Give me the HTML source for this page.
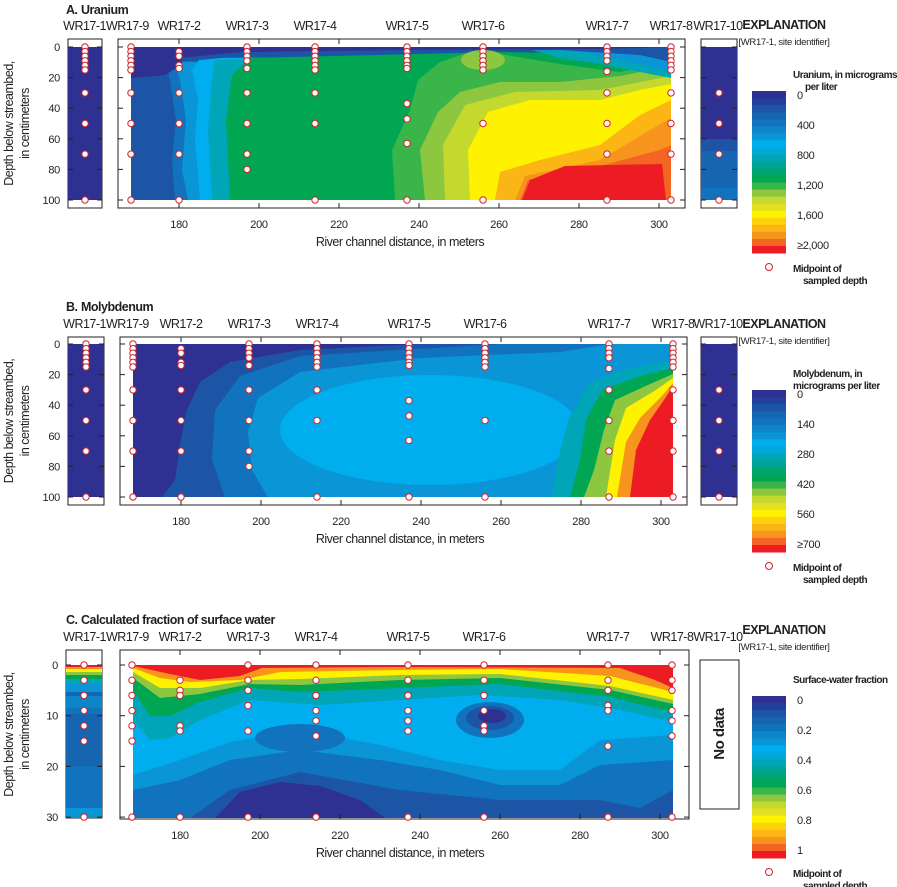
<!DOCTYPE html>
<html><head><meta charset="utf-8">
<style>
html,body{margin:0;padding:0;background:#fff;}
svg{display:block;font-family:"Liberation Sans Narrow","Liberation Sans",sans-serif;}
.t{font-size:12.5px;fill:#231f20;letter-spacing:-0.5px}
.s{font-size:11px;fill:#231f20;letter-spacing:-0.3px}
.b{font-weight:bold}
.lg{font-size:10px;letter-spacing:-0.5px}
</style></head><body>
<svg id="s" width="897" height="887" viewBox="0 0 897 887" xmlns="http://www.w3.org/2000/svg">
<defs>
<clipPath id="ca"><rect x="131" y="47" width="540" height="153"/></clipPath>
<clipPath id="cb"><rect x="133" y="344" width="540" height="153"/></clipPath>
<clipPath id="cc"><rect x="133" y="665" width="540" height="153"/></clipPath>
</defs>

<g clip-path="url(#ca)">
<rect x="131" y="47" width="540" height="153" fill="#1c55a5"/>
<polygon fill="#1173bd" points="175,200 172,160 176,120 170,80 165,62 671,55 671,200"/>
<polygon fill="#0a95d6" points="188,200 182,170 186,120 180,80 175,62 671,55 671,200"/>
<polygon fill="#00aeef" points="200,200 195,140 198,100 192,70 200,58 671,55 671,200"/>
<polygon fill="#00a5b8" points="212,200 208,130 212,80 215,60 671,55 671,200"/>
<polygon fill="#00a651" points="230,200 226,120 232,75 250,58 500,52 671,55 671,200"/>
<polygon fill="#39b54a" points="395,200 392,150 410,110 418,80 440,62 470,52 500,54 560,64 620,72 671,62 671,200"/>
<polygon fill="#8dc63f" points="425,200 420,150 438,112 460,92 500,82 560,82 620,76 671,66 671,200"/>
<polygon fill="#c4d92e" points="445,200 443,145 465,105 515,92 600,90 671,76 671,200"/>
<polygon fill="#fff200" points="470,200 468,150 488,112 530,100 600,100 640,90 671,84 671,200"/>
<polygon fill="#fbb515" points="495,200 500,172 540,160 600,145 640,115 671,100 671,200"/>
<polygon fill="#f7941d" points="515,200 525,176 600,160 650,130 671,118 671,200"/>
<polygon fill="#f26522" points="520,200 528,180 600,166 660,150 671,145 671,200"/>
<polygon fill="#ed1c24" points="522,200 530,180 565,166 662,164 666,200"/>
<polygon fill="#00a5b8" points="520,47 671,47 671,78 640,72 600,64 560,58"/>
<polygon fill="#0a95d6" points="560,47 671,47 671,72 640,64 600,56"/>
<polygon fill="#1c55a5" points="131,47 671,47 671,62 640,55 560,50 400,52 240,56 180,62 131,68"/>
<polygon fill="#2e3192" points="131,47 671,47 600,49 400,50 240,52 180,58 131,70"/>
<polygon fill="#2e3192" points="131,47 180,47 182,65 165,75 131,78"/>
<ellipse cx="483" cy="60" rx="22" ry="10" fill="#8dc63f"/>
</g>
<rect x="68" y="39" width="34" height="169" fill="#fff" stroke="#231f20"/>
<rect x="68" y="47" width="34" height="153" fill="#2e3192"/>
<rect x="118" y="39" width="567" height="169" fill="none" stroke="#231f20"/>
<rect x="701" y="39" width="36" height="169" fill="#fff" stroke="#231f20"/>
<rect x="701" y="47" width="36" height="92" fill="#2e3192"/>
<rect x="701" y="139" width="36" height="12" fill="#1c55a5"/>
<rect x="701" y="151" width="36" height="37" fill="#1565b0"/>
<rect x="701" y="188" width="36" height="12" fill="#1173bd"/>

<g clip-path="url(#cb)">
<rect x="133" y="344" width="540" height="153" fill="#0a95d6"/>
<ellipse cx="430" cy="430" rx="150" ry="55" fill="#00aeef"/>
<polygon fill="#1173bd" points="133,344 610,344 560,352 420,358 300,372 258,398 248,432 252,470 268,497 133,497"/>
<polygon fill="#1c55a5" points="133,344 500,344 300,356 240,376 215,410 212,460 225,497 133,497"/>
<polygon fill="#2e3192" points="133,344 420,344 300,350 230,362 200,382 186,412 180,445 175,480 162,497 133,497"/>
<polygon fill="#00a5b8" points="673,360 630,368 590,382 568,420 558,460 552,497 673,497"/>
<polygon fill="#00a651" points="673,368 640,376 602,390 586,420 580,460 570,497 673,497"/>
<polygon fill="#8dc63f" points="673,374 650,384 615,400 604,430 594,470 584,497 673,497"/>
<polygon fill="#fff200" points="673,378 656,390 626,408 615,440 606,497 673,497"/>
<polygon fill="#f7941d" points="673,383 660,398 640,418 626,442 617,497 673,497"/>
<polygon fill="#ed1c24" points="673,386 664,400 650,420 636,450 630,497 673,497"/>
</g>
<rect x="68" y="337" width="36" height="168" fill="#fff" stroke="#231f20"/>
<rect x="68" y="344" width="36" height="153" fill="#2e3192"/>
<rect x="120" y="337" width="567" height="168" fill="none" stroke="#231f20"/>
<rect x="701" y="337" width="36" height="168" fill="#fff" stroke="#231f20"/>
<rect x="701" y="344" width="36" height="153" fill="#2e3192"/>

<g clip-path="url(#cc)">
<rect x="133" y="665" width="540" height="153" fill="#1173bd"/>
<polygon fill="#1c55a5" points="133,818 190,818 230,790 300,772 400,790 500,800 600,800 640,808 673,790 673,818"/>
<polygon fill="#2e3192" points="215,818 240,792 280,782 320,786 360,800 385,818"/>
<polygon fill="#0a95d6" points="133,665 673,665 673,760 600,765 560,785 500,785 440,770 380,760 300,750 230,760 180,780 133,790"/>
<polygon fill="#00aeef" points="133,665 673,665 673,735 600,740 560,770 500,770 440,760 380,745 300,730 230,742 180,760 133,775"/>
<ellipse cx="300" cy="738" rx="45" ry="14" fill="#1173bd"/>
<ellipse cx="490" cy="720" rx="34" ry="18" fill="#1173bd"/>
<ellipse cx="490" cy="718" rx="24" ry="12" fill="#1c55a5"/>
<ellipse cx="492" cy="716" rx="14" ry="7" fill="#2e3192"/>
<polygon fill="#00a5b8" points="133,665 673,665 673,722 620,710 560,700 480,695 400,700 320,705 250,700 200,720 170,738 150,740 133,720"/>
<polygon fill="#00a651" points="133,665 673,665 673,712 610,697 500,684 400,688 300,692 250,688 200,702 170,716 150,716 133,690"/>
<polygon fill="#8dc63f" points="133,665 673,665 673,704 610,690 500,678 400,680 300,685 250,684 200,694 160,698 133,678"/>
<polygon fill="#fff200" points="133,665 673,665 673,700 610,686 500,674 400,675 300,679 250,680 200,688 160,688 133,672"/>
<polygon fill="#f7941d" points="133,665 673,665 673,692 610,676 500,669 400,670 280,672 240,680 190,682 160,678 133,668"/>
<polygon fill="#ed1c24" points="133,665 673,665 673,688 655,680 620,668 400,667 262,668 240,676 200,680 170,674 133,666"/>
</g>
<rect x="66" y="650" width="36" height="168" fill="#fff" stroke="#231f20"/>
<g>
<rect x="66" y="665" width="36" height="2" fill="#ed1c24"/>
<rect x="66" y="667" width="36" height="2" fill="#f7941d"/>
<rect x="66" y="669" width="36" height="3" fill="#fff200"/>
<rect x="66" y="672" width="36" height="3" fill="#8dc63f"/>
<rect x="66" y="675" width="36" height="4" fill="#00a651"/>
<rect x="66" y="679" width="36" height="5" fill="#00a5b8"/>
<rect x="66" y="684" width="36" height="8" fill="#0a95d6"/>
<rect x="66" y="692" width="36" height="4" fill="#1565b0"/>
<rect x="66" y="696" width="36" height="12" fill="#0d85c9"/>
<rect x="66" y="708" width="36" height="6" fill="#1173bd"/>
<rect x="66" y="714" width="36" height="52" fill="#1565b0"/>
<rect x="66" y="766" width="36" height="42" fill="#1173bd"/>
<rect x="66" y="808" width="36" height="10" fill="#0a95d6"/>
</g>
<rect x="120" y="650" width="569" height="169" fill="none" stroke="#231f20"/>
<rect x="700" y="660" width="39" height="149" fill="#fff" stroke="#231f20"/>
<text class="t b" transform="translate(724,734) rotate(-90)" text-anchor="middle" style="font-size:15px">No data</text>

<g id="dyn"></g>
</svg>
<script>
var NS="http://www.w3.org/2000/svg",g=document.getElementById('dyn');
function el(n,a,t){var e=document.createElementNS(NS,n);for(var k in a)e.setAttribute(k,a[k]);if(t!==undefined)e.textContent=t;g.appendChild(e);return e;}
function txt(x,y,s,cls,anc){el('text',{x:x,y:y,'class':cls||'t','text-anchor':anc||'start'},s);}
function line(x1,y1,x2,y2){el('line',{x1:x1,y1:y1,x2:x2,y2:y2,stroke:'#231f20','stroke-width':1});}
function dot(x,y){el('circle',{cx:x,cy:y,r:3.2,fill:'#fff',stroke:'#d2232a','stroke-width':1});}
var pal=["#2e3192","#22409a","#1c55a5","#1565b0","#1173bd","#0d85c9","#0a95d6","#00aeef","#00a9d8","#00a5b8","#00a396","#00a46e","#00a651","#39b54a","#8dc63f","#c4d92e","#e3e022","#fff200","#fdd20b","#fbb515","#f7941d","#f26522","#ed1c24"];
var sites=[["WR17-9",168],["WR17-2",180],["WR17-3",197],["WR17-4",214],["WR17-5",237],["WR17-6",256],["WR17-7",287],["WR17-8",303]];
var depthsAB=[[0,3,6,9,12,15,30,50,70,100],[3,6,12,14,30,50,70,100],[0,3,6,9,14,30,50,70,80],[0,3,6,9,12,15,30,50,100],[0,3,6,9,12,14,37,47,63,100],[0,3,6,9,12,15,50,100],[0,3,6,9,16,30,50,70,100],[0,3,6,9,12,15,30,50,70,100]];
var depthsC=[[0,3,6,9,12,15,30],[3,5,6,12,13,30],[0,3,5,8,13,30],[0,3,6,9,11,14,30],[0,3,6,9,11,13,30],[0,3,6,9,12,13,30],[0,3,5,8,9,16,30],[0,3,5,9,11,14,30]];
var P=[
 {title:"Uranium",letter:"A.",ty:14,ly:30,x0:118,x1:685,bt:39,bb:208,y0:47,ys:1.53,xo:179,mx:[0,20,40,60,80,100],lx:68,lw:34,rx:701,rw:36,dl:depthsAB,r10:[30,50,70,100],
  lgY:0,leg1:"Uranium, in micrograms",leg2:"per liter",l2x:805,labs:["0","400","800","1,200","1,600","\u22652,000"]},
 {title:"Molybdenum",letter:"B.",ty:311,ly:328,x0:120,x1:687,bt:337,bb:505,y0:344,ys:1.53,xo:181,mx:[0,20,40,60,80,100],lx:68,lw:36,rx:701,rw:36,dl:depthsAB,r10:[30,50,70,100],
  lgY:299,leg1:"Molybdenum, in",leg2:"micrograms per liter",l2x:793,labs:["0","140","280","420","560","\u2265700"]},
 {title:"Calculated fraction of surface water",letter:"C.",ty:624,ly:641,x0:120,x1:689,bt:650,bb:819,y0:665,ys:5.07,xo:180,mx:[0,10,20,30],lx:66,lw:36,rx:null,dl:depthsC,r10:null,
  lgY:605,leg1:"Surface-water fraction",leg2:null,labs:["0","0.2","0.4","0.6","0.8","1"]}
];
P.forEach(function(p,pi){
 var X=function(m){return p.xo+(m-180)*4;};
 txt(66,p.ty,p.letter,"t b");
 el('text',{x:81,y:p.ty,'class':'t b'},p.title);
 txt(106,p.ly,"WR17-1","t","end");
 sites.forEach(function(s,i){var x=X(s[1]);txt(i==0?106:x,p.ly,s[0],"t",i==0?"start":"middle");});
 txt(718,p.ly,"WR17-10","t","middle");
 p.mx.forEach(function(d){var y=p.y0+d*p.ys;txt(p.lx-8,y+4,String(d),"s","end");
   line(p.lx,y,p.lx+5,y);line(p.lx+p.lw-5,y,p.lx+p.lw,y);
   line(p.x0,y,p.x0+5,y);line(p.x1-5,y,p.x1,y);
   if(p.rx){line(p.rx,y,p.rx+5,y);line(p.rx+p.rw-5,y,p.rx+p.rw,y);}
 });
 [180,200,220,240,260,280,300].forEach(function(m){var x=X(m);line(x,p.bt,x,p.bt+5);line(x,p.bb-5,x,p.bb);txt(x,p.bb+20,String(m),"s","middle");});
 txt(400,p.bb+38,"River channel distance, in meters","t","middle");
 var cy=(p.bt+p.bb)/2;
 el('text',{'class':'t',transform:'translate(13,'+cy+') rotate(-90)','text-anchor':'middle'},"Depth below streambed,");
 el('text',{'class':'t',transform:'translate(29,'+cy+') rotate(-90)','text-anchor':'middle'},"in centimeters");
 var cx1=p.lx+p.lw/2;
 p.dl[0].forEach(function(d){dot(cx1,p.y0+d*p.ys);});
 sites.forEach(function(s,i){p.dl[i].forEach(function(d){dot(X(s[1]),p.y0+d*p.ys);});});
 if(p.r10)p.r10.forEach(function(d){dot(p.rx+p.rw/2,p.y0+d*p.ys);});
 var L=p.lgY;
 txt(784,L+29,"EXPLANATION","t b","middle");
 el('text',{x:784,y:L+45,'class':'s','text-anchor':'middle',style:'font-size:9.5px'},"[WR17-1, site identifier]");
 el('text',{x:793,y:L+78,'class':'s b lg'},p.leg1);
 if(p.leg2)el('text',{x:p.l2x,y:L+90,'class':'s b lg'},p.leg2);
 var by=L+91,bh=162,n=pal.length;
 pal.forEach(function(c,i){el('rect',{x:752,y:by+i*bh/n,width:34,height:bh/n+0.5,fill:c});});
 p.labs.forEach(function(l,i){txt(797,by+8+i*30,l,"s");});
 el('circle',{cx:769,cy:L+267,r:3.5,fill:'#fff',stroke:'#d2232a'});
 el('text',{x:793,y:L+272,'class':'s b lg'},"Midpoint of");
 el('text',{x:803,y:L+284,'class':'s b lg'},"sampled depth");
});
</script>
</body></html>
